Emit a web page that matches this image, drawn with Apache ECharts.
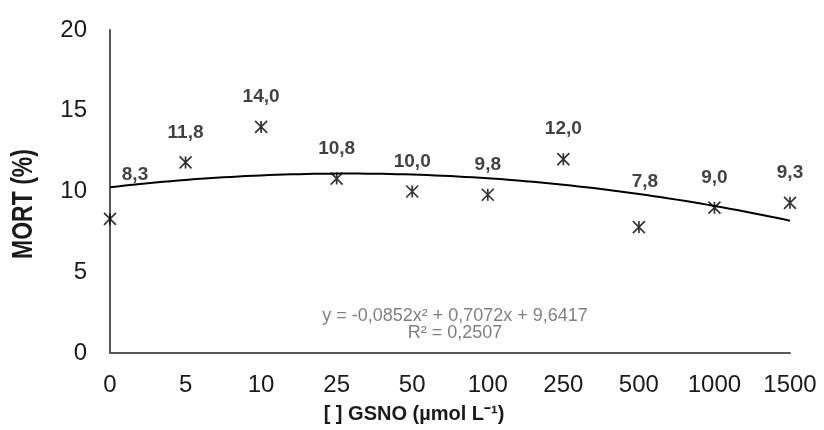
<!DOCTYPE html>
<html>
<head>
<meta charset="utf-8">
<script src="https://cdn.jsdelivr.net/npm/echarts@6/dist/echarts.min.js"></script>
<style>
  html, body { margin: 0; padding: 0; background: #fff; }
  #chart { width: 824px; height: 430px; }
</style>
</head>
<body>
<div id="chart"></div>
<script>
// GSNO concentrations (µmol L-1) and mortality (%)
const categories = ['0', '5', '10', '25', '50', '100', '250', '500', '1000', '1500'];
const mortality = [8.3, 11.8, 14.0, 10.8, 10.0, 9.8, 12.0, 7.8, 9.0, 9.3];
const yTicks = [0, 5, 10, 15, 20];
// Polynomial trendline y = a*x^2 + b*x + c, x = category index starting at 1
const trendCoef = [-0.0852, 0.7072, 9.6417];
const equationText = 'y = -0,0852x² + 0,7072x + 9,6417';
const r2Text = 'R² = 0,2507';
const yTitle = 'MORT (%)';
const xTitle = '[ ] GSNO (µmol L⁻¹)';

const fmt = v => v.toFixed(1).replace('.', ',');

// evaluate the fitted polynomial along the x range
const trend = [];
for (let i = 0; i <= 90; i++) {
  const x = 1 + i * 0.1;
  trend.push([x, trendCoef[0] * x * x + trendCoef[1] * x + trendCoef[2]]);
}

const starPath = 'path://M0,0L10,10M10,0L0,10M5,0L5,10';

const scatterData = mortality.map((v, i) => {
  const d = { value: v };
  if (i === 0) d.label = { offset: [25, -14] };
  if (i === 7) d.label = { offset: [6, -15] };
  return d;
});

const chart = echarts.init(document.getElementById('chart'));
chart.setOption({
  animation: false,
  backgroundColor: '#fff',
  grid: { left: 110, right: 34, top: 30, bottom: 77 },
  xAxis: [{
    type: 'category',
    data: categories,
    boundaryGap: false,
    axisLine: { lineStyle: { color: '#595959', width: 2 } },
    axisTick: { show: false },
    axisLabel: { color: '#1a1a1a', fontSize: 24, fontFamily: 'Liberation Sans', margin: 20 },
    splitLine: { show: false }
  }, {
    type: 'value',
    min: 1, max: 10,
    show: false
  }],
  yAxis: {
    type: 'value',
    min: 0, max: 20, interval: 5,
    axisLine: { show: true, lineStyle: { color: '#595959', width: 2 } },
    axisTick: { show: false },
    splitLine: { show: false },
    axisLabel: {
      color: '#1a1a1a', fontSize: 24, fontFamily: 'Liberation Sans', margin: 23,
      formatter: v => yTicks.includes(v) ? String(v) : ''
    }
  },
  series: [{
    type: 'line',
    xAxisIndex: 1,
    data: trend,
    showSymbol: false,
    smooth: false,
    lineStyle: { color: '#000', width: 2 },
    z: 2
  }, {
    type: 'scatter',
    data: scatterData,
    symbol: starPath,
    symbolSize: 12,
    itemStyle: { color: 'none', borderColor: '#000', borderWidth: 1.7 },
    label: {
      show: true,
      position: 'top',
      distance: 12,
      color: '#111',
      fontSize: 19,
      fontWeight: 'bold',
      fontFamily: 'Liberation Sans',
      formatter: p => fmt(p.value)
    },
    z: 3
  }],
  graphic: [{
    type: 'text',
    x: 455, y: 325,
    style: {
      text: equationText + '\n' + r2Text,
      align: 'center',
      verticalAlign: 'middle',
      fill: '#7f7f7f',
      fontSize: 18,
      lineHeight: 17,
      fontFamily: 'Liberation Sans'
    }
  }, {
    type: 'text',
    x: 414, y: 414,
    style: {
      text: xTitle,
      align: 'center',
      verticalAlign: 'middle',
      fill: '#1a1a1a',
      fontSize: 20,
      fontWeight: 'bold',
      fontFamily: 'Liberation Sans'
    }
  }, {
    type: 'text',
    x: 24, y: 204,
    rotation: Math.PI / 2,
    scaleY: 1.25,
    style: {
      text: yTitle,
      align: 'center',
      verticalAlign: 'middle',
      fill: '#1a1a1a',
      fontSize: 23,
      fontWeight: 'bold',
      fontFamily: 'Liberation Sans'
    }
  }]
});
</script>
</body>
</html>
